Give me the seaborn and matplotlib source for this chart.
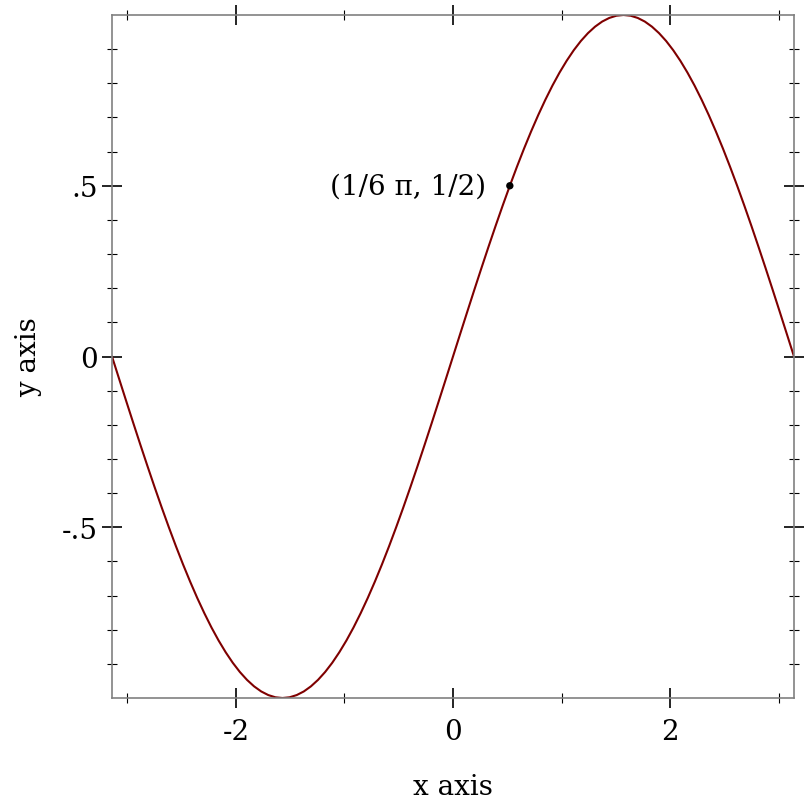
"""Sine curve with a labelled point, Racket plot look."""
import matplotlib

matplotlib.use("Agg")
import matplotlib.pyplot as plt
import matplotlib.ticker as mticker
import pandas as pd
import seaborn as sns

# curve samples, x in radians (step pi/48)
X_VALS = [
    -3.1416, -3.0761, -3.0107, -2.9452, -2.8798, -2.8143, -2.7489, -2.6834,
    -2.6180, -2.5525, -2.4871, -2.4216, -2.3562, -2.2907, -2.2253, -2.1598,
    -2.0944, -2.0289, -1.9635, -1.8980, -1.8326, -1.7671, -1.7017, -1.6362,
    -1.5708, -1.5053, -1.4399, -1.3744, -1.3090, -1.2435, -1.1781, -1.1126,
    -1.0472, -0.9817, -0.9163, -0.8508, -0.7854, -0.7199, -0.6545, -0.5890,
    -0.5236, -0.4581, -0.3927, -0.3272, -0.2618, -0.1963, -0.1309, -0.0654,
    0.0,
    0.0654, 0.1309, 0.1963, 0.2618, 0.3272, 0.3927, 0.4581, 0.5236,
    0.5890, 0.6545, 0.7199, 0.7854, 0.8508, 0.9163, 0.9817, 1.0472,
    1.1126, 1.1781, 1.2435, 1.3090, 1.3744, 1.4399, 1.5053, 1.5708,
    1.6362, 1.7017, 1.7671, 1.8326, 1.8980, 1.9635, 2.0289, 2.0944,
    2.1598, 2.2253, 2.2907, 2.3562, 2.4216, 2.4871, 2.5525, 2.6180,
    2.6834, 2.7489, 2.8143, 2.8798, 2.9452, 3.0107, 3.0761, 3.1416,
]
Y_VALS = [
    0.0, -0.0654, -0.1305, -0.1951, -0.2588, -0.3214, -0.3827, -0.4423,
    -0.5, -0.5556, -0.6088, -0.6593, -0.7071, -0.7518, -0.7934, -0.8315,
    -0.8660, -0.8969, -0.9239, -0.9469, -0.9659, -0.9808, -0.9914, -0.9979,
    -1.0, -0.9979, -0.9914, -0.9808, -0.9659, -0.9469, -0.9239, -0.8969,
    -0.8660, -0.8315, -0.7934, -0.7518, -0.7071, -0.6593, -0.6088, -0.5556,
    -0.5, -0.4423, -0.3827, -0.3214, -0.2588, -0.1951, -0.1305, -0.0654,
    0.0,
    0.0654, 0.1305, 0.1951, 0.2588, 0.3214, 0.3827, 0.4423, 0.5,
    0.5556, 0.6088, 0.6593, 0.7071, 0.7518, 0.7934, 0.8315, 0.8660,
    0.8969, 0.9239, 0.9469, 0.9659, 0.9808, 0.9914, 0.9979, 1.0,
    0.9979, 0.9914, 0.9808, 0.9659, 0.9469, 0.9239, 0.8969, 0.8660,
    0.8315, 0.7934, 0.7518, 0.7071, 0.6593, 0.6088, 0.5556, 0.5,
    0.4423, 0.3827, 0.3214, 0.2588, 0.1951, 0.1305, 0.0654, 0.0,
]

POINT_X = [0.5236]
POINT_Y = [0.5]
POINT_LABEL = "(1/6 π, 1/2)"

X_MAJOR = [-2, 0, 2]
X_MINOR = [-3, -1, 1, 3]
Y_MAJOR = [-0.5, 0, 0.5]
Y_MINOR = [-0.9, -0.8, -0.7, -0.6, -0.4, -0.3, -0.2, -0.1,
           0.1, 0.2, 0.3, 0.4, 0.6, 0.7, 0.8, 0.9]
Y_LABELS = ["-.5", "0", ".5"]

sns.set_style("ticks")
plt.rcParams["font.family"] = ["DejaVu Serif"]
plt.rcParams["text.color"] = "black"
plt.rcParams["axes.labelcolor"] = "black"
plt.rcParams["xtick.labelcolor"] = "black"
plt.rcParams["ytick.labelcolor"] = "black"

curve = pd.DataFrame({"x": X_VALS, "y": Y_VALS})

fig = plt.figure(figsize=(8.12, 8.12), dpi=100)
ax = fig.add_axes([112 / 812, 1 - 699 / 812, 682 / 812, 683 / 812])

sns.lineplot(data=curve, x="x", y="y", sort=False, color="#7f0000", lw=1.5, ax=ax)
sns.scatterplot(x=POINT_X, y=POINT_Y, color="black", s=28, edgecolor="none", ax=ax, zorder=5)
ax.annotate(POINT_LABEL, (POINT_X[0], POINT_Y[0]), xytext=(-17, 0),
            textcoords="offset points", ha="right", va="center", fontsize=20)

ax.set_xlim(-3.14159, 3.14159)
ax.set_ylim(-1, 1)
ax.xaxis.set_major_locator(mticker.FixedLocator(X_MAJOR))
ax.xaxis.set_minor_locator(mticker.FixedLocator(X_MINOR))
ax.yaxis.set_major_locator(mticker.FixedLocator(Y_MAJOR))
ax.yaxis.set_minor_locator(mticker.FixedLocator(Y_MINOR))
ax.set_xticklabels([str(v) for v in X_MAJOR])
ax.set_yticklabels(Y_LABELS)

ax.tick_params(which="major", direction="inout", length=15, width=1.2, color="black",
               top=True, right=True, labelsize=20)
ax.tick_params(axis="x", which="major", pad=7)
ax.tick_params(axis="y", which="major", pad=3)
ax.tick_params(which="minor", direction="inout", length=7, width=0.8, color="black",
               top=True, right=True)
for s in ax.spines.values():
    s.set_visible(True)
    s.set_color("#808080")
    s.set_linewidth(1.2)

ax.set_xlabel("x axis", fontsize=20, labelpad=20)
ax.set_ylabel("y axis", fontsize=20, labelpad=14)

fig.savefig("out.png", dpi=100)
